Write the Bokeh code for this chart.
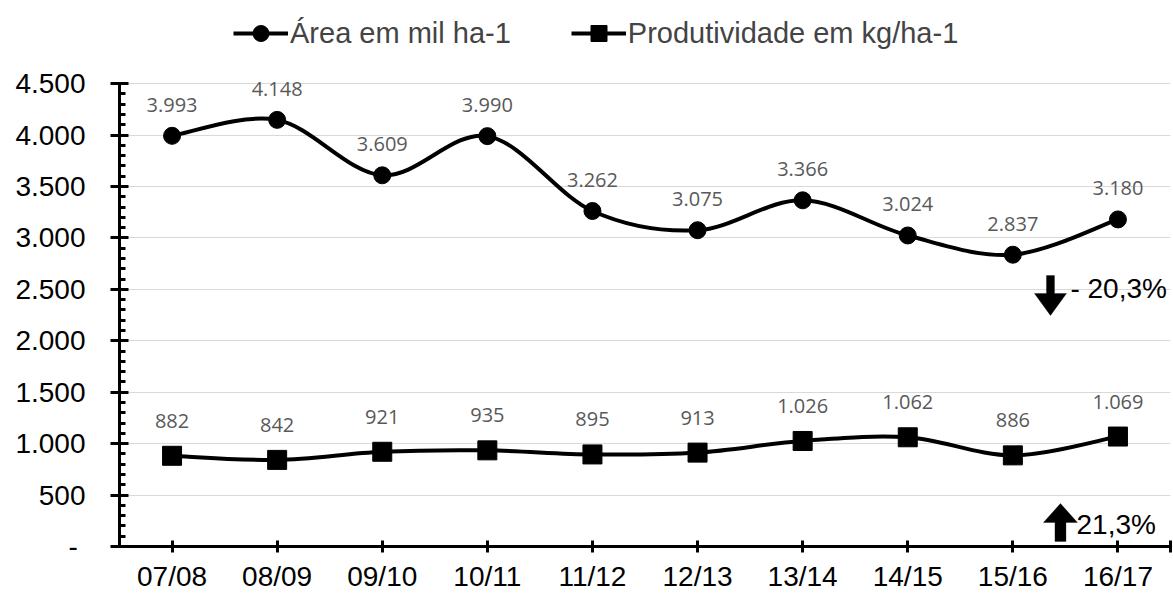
from bokeh.plotting import figure
from bokeh.layouts import column
from bokeh.models import FixedTicker, Legend, LegendItem, Label, PolyAnnotation
from bokeh.embed import file_html
from bokeh.resources import INLINE
from bokeh.core.properties import value

# ---------------- data ----------------
seasons = ["07/08", "08/09", "09/10", "10/11", "11/12", "12/13", "13/14", "14/15", "15/16", "16/17"]
area = [3993, 4148, 3609, 3990, 3262, 3075, 3366, 3024, 2837, 3180]
prod = [882, 842, 921, 935, 895, 913, 1026, 1062, 886, 1069]
y_ticks = [0, 500, 1000, 1500, 2000, 2500, 3000, 3500, 4000, 4500]
y_tick_labels = ["-\u00a0", "500", "1.000", "1.500", "2.000", "2.500", "3.000", "3.500", "4.000", "4.500"]
area_name = "Área em mil ha-1"
prod_name = "Produtividade em kg/ha-1"
area_change = "- 20,3%"
prod_change = "21,3%"


def fmt(v):
    return f"{v:,}".replace(",", ".")


x = [i + 0.5 for i in range(len(seasons))]
n = len(seasons)

W = 1173
LEG_H = 62
H = 594 - LEG_H
LEFT, RIGHT, TOP, BOTTOM = 119, 3, 15, 48
Y_END = 4560

# ---------------- legend strip ----------------
lg = figure(width=W, height=LEG_H, x_range=(0, 1), y_range=(0, 1), output_backend="svg",
            toolbar_location=None, x_axis_location=None, y_axis_location=None, min_border=0)
lg.outline_line_color = None
lg.grid.grid_line_color = None
l1 = lg.line([-2, -1], [-2, -2], line_color="black", line_width=4)
s1 = lg.scatter([-2], [-2], marker="circle", fill_color="black", line_color="black")
l2 = lg.line([-2, -1], [-2, -2], line_color="black", line_width=4)
s2 = lg.scatter([-2], [-2], marker="square", fill_color="black", line_color="black")
legend = Legend(items=[LegendItem(label=area_name, renderers=[l1, s1]),
                       LegendItem(label=prod_name, renderers=[l2, s2])],
                orientation="horizontal", location=(114, 9), padding=0, margin=0, spacing=60,
                glyph_width=55, glyph_height=40, label_standoff=2, label_height=40,
                label_text_font="Liberation Sans", label_text_font_size="29px",
                border_line_color=None, background_fill_alpha=0)
lg.add_layout(legend, "center")

# ---------------- main chart ----------------
p = figure(width=W, height=H, x_range=(0, n), y_range=(0, Y_END),
           output_backend="svg", toolbar_location=None,
           min_border_left=LEFT, min_border_right=RIGHT, min_border_top=TOP, min_border_bottom=BOTTOM)
p.outline_line_color = None
p.background_fill_color = "white"
p.border_fill_color = "white"

p.xaxis.ticker = FixedTicker(ticks=x + [float(n)])
p.xaxis.major_label_overrides = {**{xi: s for xi, s in zip(x, seasons)}, float(n): ""}
p.yaxis.ticker = FixedTicker(ticks=y_ticks, minor_ticks=list(range(0, 4501, 100)))
p.yaxis.major_label_overrides = {t: l for t, l in zip(y_ticks, y_tick_labels)}
p.yaxis.bounds = (0, 4500)
for ax in (p.xaxis, p.yaxis):
    ax.axis_line_width = 3
    ax.axis_line_color = "black"
    ax.major_tick_line_width = 3
    ax.major_tick_line_color = "black"
    ax.major_label_text_font = "Liberation Sans"
    ax.major_label_text_font_size = "28px"
    ax.major_label_text_color = "black"
p.xaxis.major_tick_in = 6
p.xaxis.major_tick_out = 6
p.xaxis.minor_tick_line_color = None
p.xaxis.major_label_standoff = 8
p.yaxis.major_tick_in = 9
p.yaxis.major_tick_out = 9
p.yaxis.minor_tick_in = 6
p.yaxis.minor_tick_out = 0
p.yaxis.minor_tick_line_width = 3
p.yaxis.minor_tick_line_color = "black"
p.yaxis.major_label_standoff = 25

p.xgrid.grid_line_color = None
p.ygrid.grid_line_color = "#d9d9d9"
p.ygrid.grid_line_width = 1


# smoothed lines (Excel-like) as bezier segments computed from the data
def bez(xs, ys):
    d = dict(x0=[], y0=[], x1=[], y1=[], cx0=[], cy0=[], cx1=[], cy1=[])
    m = len(xs)
    for i in range(m - 1):
        a = max(i - 1, 0)
        b = min(i + 2, m - 1)
        d["x0"].append(xs[i]); d["y0"].append(ys[i])
        d["x1"].append(xs[i + 1]); d["y1"].append(ys[i + 1])
        d["cx0"].append(xs[i] + (xs[i + 1] - xs[a]) / 6)
        d["cy0"].append(ys[i] + (ys[i + 1] - ys[a]) / 6)
        d["cx1"].append(xs[i + 1] - (xs[b] - xs[i]) / 6)
        d["cy1"].append(ys[i + 1] - (ys[b] - ys[i]) / 6)
    return d


p.bezier(source=bez(x, area), x0="x0", y0="y0", x1="x1", y1="y1", cx0="cx0", cy0="cy0",
         cx1="cx1", cy1="cy1", line_color="black", line_width=4)
p.bezier(source=bez(x, prod), x0="x0", y0="y0", x1="x1", y1="y1", cx0="cx0", cy0="cy0",
         cx1="cx1", cy1="cy1", line_color="black", line_width=4)
p.scatter(x, area, marker="circle", size=17, fill_color="black", line_color="black")
p.scatter(x, prod, marker="square", size=19, fill_color="black", line_color="black")

p.text(x, area, text=[fmt(v) for v in area], y_offset=-31, text_align="center",
       text_baseline="middle", text_font=value("Open Sans"), text_font_size="20px", text_color="#595959")
p.text(x, prod, text=[fmt(v) for v in prod], y_offset=-35, text_align="center",
       text_baseline="middle", text_font=value("Open Sans"), text_font_size="20px", text_color="#595959")

# change arrows
frame_h = H - TOP - BOTTOM
px_x = (W - LEFT - RIGHT) / n      # px per category unit
px_y = frame_h / Y_END             # px per y unit


def arrow_poly(xc, y_tail, y_tip, shaft_px, head_w_px, head_len_px):
    sw = shaft_px / 2 / px_x
    hw = head_w_px / 2 / px_x
    direction = 1 if y_tip > y_tail else -1
    yb = y_tip - direction * head_len_px / px_y
    xs = [xc - sw, xc + sw, xc + sw, xc + hw, xc, xc - hw, xc - sw]
    ys = [y_tail, y_tail, yb, yb, y_tip, yb, yb]
    return xs, ys


dx, dy = arrow_poly(8.858, 2635, 2246, 8, 32, 22)
p.add_layout(PolyAnnotation(xs=dx, ys=dy, fill_color="black", fill_alpha=1, line_color="black", line_width=1))
ux, uy = arrow_poly(8.953, 49, 418, 11, 34, 19)
p.add_layout(PolyAnnotation(xs=ux, ys=uy, fill_color="black", fill_alpha=1, line_color="black", line_width=1))

p.add_layout(Label(x=9.048, y=2513, text=area_change, text_font="Liberation Sans", text_font_size="28px",
                   text_baseline="middle", text_color="black"))
p.add_layout(Label(x=9.106, y=214, text=prod_change, text_font="Liberation Sans", text_font_size="28px",
                   text_baseline="middle", text_color="black"))

open("out.html", "w").write(file_html(column(lg, p, spacing=0), INLINE))
